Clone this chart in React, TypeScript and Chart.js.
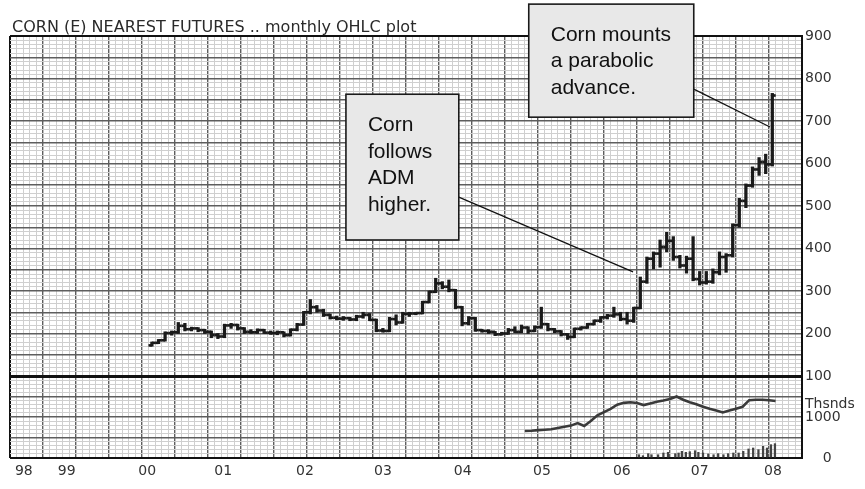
import React, { useEffect, useRef } from 'react';
import { Chart, registerables } from 'chart.js';
Chart.register(...registerables);

const TITLE = 'CORN (E) NEAREST FUTURES .. monthly OHLC plot';

// x axis is in month slots (0..120); year labels sit at these slots
const yearLabels = ['98', '99', '00', '01', '02', '03', '04', '05', '06', '07', '08'];
const yearPos = [2.1, 8.6, 20.8, 32.3, 44.7, 56.5, 68.6, 80.6, 92.7, 104.5, 115.6];
const firstBarSlot = 21.5;

const opens = [172,178,184,201,203,218,210,212,208,204,196,193,219,220,212,204,203,208,202,201,203,196,209,221,250,262,254,244,237,235,236,233,240,244,232,207,206,234,226,246,247,248,274,298,318,310,302,262,224,236,208,206,204,198,200,208,204,214,206,215,222,210,205,198,192,211,214,222,230,238,242,245,234,230,260,322,376,388,404,418,380,360,376,328,320,322,344,380,384,455,512,548,586,604,598];
const highs = [180,186,204,206,226,224,215,214,210,206,200,222,224,222,214,209,211,210,206,206,204,211,224,252,280,266,257,246,241,240,238,243,250,247,234,212,238,244,250,250,250,276,300,330,322,326,304,264,240,238,210,209,205,203,212,216,220,216,218,262,224,212,207,200,213,216,224,232,240,245,262,250,250,262,333,380,392,420,438,428,384,382,428,346,346,352,392,388,458,518,552,592,614,622,765];
const lows = [170,176,182,196,200,206,206,204,200,190,188,190,212,208,200,200,200,200,198,197,192,194,206,219,246,250,240,234,232,231,230,230,236,230,204,203,204,220,224,240,244,246,272,296,305,298,258,218,220,205,203,200,195,196,198,202,202,200,204,212,206,202,194,186,190,208,212,220,226,234,238,230,222,226,258,318,352,356,392,372,354,342,324,314,316,318,338,344,380,450,496,544,572,576,594];
const closes = [178,184,201,203,218,210,212,208,204,196,193,219,220,212,204,203,208,202,201,203,196,209,221,250,262,254,244,237,235,236,233,240,244,232,207,206,234,226,246,247,248,274,298,318,310,302,262,224,236,208,206,204,198,200,208,204,214,206,215,222,210,205,198,192,211,214,222,230,238,242,245,234,230,260,322,376,388,404,418,380,360,376,328,320,322,344,380,384,455,512,548,586,604,598,760];

// lower panel: open interest (thousands) and volume
const oiSlots = [78,79,80,81,82,83,84,85,86,87,88,89,90,91,92,93,94,95,96,97,98,99,100,101,102,103,104,105,106,107,108,109,110,111,112,113,114,115,116];
const oiValues = [660,665,680,690,700,730,760,790,850,780,900,1040,1120,1200,1300,1345,1360,1340,1290,1330,1370,1400,1440,1500,1420,1360,1310,1250,1200,1160,1110,1160,1200,1250,1410,1420,1420,1410,1390];
const volSlots = [95.3,95.9,96.7,97.2,98.2,99.0,99.7,100.8,101.3,101.8,102.4,103.0,103.8,104.3,105.0,105.8,106.6,107.3,108.1,108.8,109.6,110.4,111.1,111.9,112.6,113.4,114.1,114.7,115.3,115.9];
const volValues = [80,56,105,80,80,122,139,105,122,163,139,154,178,139,122,98,80,105,80,105,122,122,163,220,244,203,285,244,325,350];

const callouts = [
  { lines: ['Corn', 'follows', 'ADM', 'higher.'], box: [50.9, 763, 68.0, 420], from: [68.0, 521], to: [94.4, 345] },
  { lines: ['Corn mounts', 'a parabolic', 'advance.'], box: [78.6, 975, 103.6, 709], from: [103.6, 775], to: [115.15, 686] },
];

const INK = '#1a1a1a';
const MAJOR = '#5e5e5e';
const MINOR = '#cfcfcf';
const LABEL_FONT = { family: 'DejaVu Sans', size: 14 };

export default function App() {
  const ref = useRef<HTMLCanvasElement | null>(null);

  useEffect(() => {
    if (!ref.current) return;
    const barX = opens.map((_, i) => firstBarSlot + i);

    const titlePlugin = {
      id: 'titleText',
      afterDraw(chart: any) {
        const { ctx, chartArea } = chart;
        ctx.save();
        ctx.font = '16px "DejaVu Sans"';
        ctx.fillStyle = '#2a2a2a';
        ctx.textBaseline = 'alphabetic';
        ctx.fillText(TITLE, chartArea.left + 2, chartArea.top - 4);
        ctx.restore();
      },
    };

    const calloutPlugin = {
      id: 'callouts',
      afterDatasetsDraw(chart: any) {
        const { ctx } = chart;
        const sx = chart.scales.x;
        const sy = chart.scales.y;
        ctx.save();
        for (const c of callouts) {
          const x1 = sx.getPixelForValue(c.box[0]);
          const y1 = sy.getPixelForValue(c.box[1]);
          const x2 = sx.getPixelForValue(c.box[2]);
          const y2 = sy.getPixelForValue(c.box[3]);
          ctx.beginPath();
          ctx.lineWidth = 1.2;
          ctx.strokeStyle = '#111';
          ctx.moveTo(sx.getPixelForValue(c.from[0]), sy.getPixelForValue(c.from[1]));
          ctx.lineTo(sx.getPixelForValue(c.to[0]), sy.getPixelForValue(c.to[1]));
          ctx.stroke();
          ctx.fillStyle = '#e8e8e8';
          ctx.fillRect(x1, y1, x2 - x1, y2 - y1);
          ctx.lineWidth = 1.6;
          ctx.strokeStyle = '#1a1a1a';
          ctx.strokeRect(x1, y1, x2 - x1, y2 - y1);
          ctx.fillStyle = '#111';
          ctx.font = '21px "Liberation Sans"';
          ctx.textBaseline = 'middle';
          c.lines.forEach((t, i) => {
            ctx.fillText(t, x1 + 22, y1 + 31 + i * 26.5);
          });
        }
        ctx.restore();
      },
    };

    const gridFor = (edgeA: number, edgeB: number, major: number, thickA: number, thickB: number) => ({
      drawTicks: false,
      offset: false,
      color: (c: any) => {
        const v = c.tick?.value;
        if (v === edgeA || v === edgeB) return '#111';
        return Math.abs(v % major) < 1e-9 ? MAJOR : MINOR;
      },
      lineWidth: (c: any) => {
        const v = c.tick?.value;
        if (v === edgeA) return thickA;
        if (v === edgeB) return thickB;
        return Math.abs(v % major) < 1e-9 ? 1.4 : 1;
      },
    });

    const chart = new Chart(ref.current, {
      type: 'bar',
      data: {
        datasets: [
          {
            type: 'bar',
            label: 'High-Low',
            data: barX.map((x, i) => ({ x, y: [lows[i], highs[i]] })) as any,
            backgroundColor: INK,
            barThickness: 2.6,
            grouped: false,
            xAxisID: 'x',
            yAxisID: 'y',
          } as any,
          {
            type: 'line',
            label: 'Open',
            data: barX.map((x, i) => ({ x: x - 0.26, y: opens[i] })),
            showLine: false,
            pointStyle: 'line',
            pointRadius: 1.7,
            pointBorderWidth: 2.6,
            pointBorderColor: INK,
            xAxisID: 'x',
            yAxisID: 'y',
          } as any,
          {
            type: 'line',
            label: 'Close',
            data: barX.map((x, i) => ({ x: x + 0.26, y: closes[i] })),
            showLine: false,
            pointStyle: 'line',
            pointRadius: 1.7,
            pointBorderWidth: 2.6,
            pointBorderColor: INK,
            xAxisID: 'x',
            yAxisID: 'y',
          } as any,
          {
            type: 'line',
            label: 'Open interest',
            data: oiSlots.map((x, i) => ({ x, y: oiValues[i] })),
            borderColor: '#3a3a3a',
            borderWidth: 2.6,
            pointRadius: 0,
            tension: 0,
            xAxisID: 'x',
            yAxisID: 'y2',
          } as any,
          {
            type: 'bar',
            label: 'Volume',
            data: volSlots.map((x, i) => ({ x, y: volValues[i] })),
            backgroundColor: '#444',
            barThickness: 1.6,
            grouped: false,
            xAxisID: 'x',
            yAxisID: 'y2',
          } as any,
        ],
      },
      options: {
        animation: false,
        responsive: false,
        devicePixelRatio: 1,
        layout: { padding: { left: 10, top: 36, right: 0, bottom: 0 } },
        plugins: { legend: { display: false }, tooltip: { enabled: false }, title: { display: false } },
        events: [],
        scales: {
          x: {
            type: 'linear',
            min: 0,
            max: 120,
            offset: false,
            position: 'bottom',
            ticks: { display: false, stepSize: 1, autoSkip: false },
            grid: gridFor(0, 120, 5, 2, 2),
            border: { display: false },
            afterFit: (s: any) => { s.height = 0; },
          },
          xl: {
            type: 'linear',
            min: 0,
            max: 120,
            offset: false,
            position: 'bottom',
            grid: { display: false, drawTicks: false, offset: false },
            border: { display: false },
            afterBuildTicks: (s: any) => { s.ticks = yearPos.map((v) => ({ value: v })); },
            ticks: {
              autoSkip: false,
              maxRotation: 0,
              padding: 5,
              color: '#333',
              font: LABEL_FONT,
              callback: (_v: any, i: number) => yearLabels[i],
            },
            afterFit: (s: any) => { s.height = 31; },
          },
          y: {
            type: 'linear',
            position: 'right',
            stack: 'right',
            stackWeight: 340,
            min: 100,
            max: 900,
            ticks: {
              stepSize: 10,
              autoSkip: false,
              padding: 3,
              color: '#333',
              font: LABEL_FONT,
              callback: (v: any) => (v % 100 === 0 ? String(v) : ''),
            },
            grid: gridFor(100, 900, 50, 3, 2),
            border: { display: true, color: '#111', width: 2 },
            afterFit: (s: any) => { s.width = 63; },
          },
          y2: {
            type: 'linear',
            position: 'right',
            stack: 'right',
            stackWeight: 82,
            min: 0,
            max: 2000,
            ticks: {
              stepSize: 100,
              autoSkip: false,
              padding: 3,
              color: '#333',
              font: LABEL_FONT,
              callback: (v: any) => (v === 1000 ? '1000' : v === 1300 ? 'Thsnds' : v === 0 ? '    0' : ''),
            },
            grid: gridFor(0, 2000, 500, 2, 3),
            border: { display: true, color: '#111', width: 2 },
            afterFit: (s: any) => { s.width = 63; },
          },
        } as any,
      },
      plugins: [titlePlugin, calloutPlugin],
    } as any);

    return () => chart.destroy();
  }, []);

  return (
    <div style={{ position: 'fixed', left: 0, top: 0, width: 865, height: 489, background: '#fff' }}>
      <canvas ref={ref} width={865} height={489} style={{ display: 'block', width: 865, height: 489 }} />
    </div>
  );
}
